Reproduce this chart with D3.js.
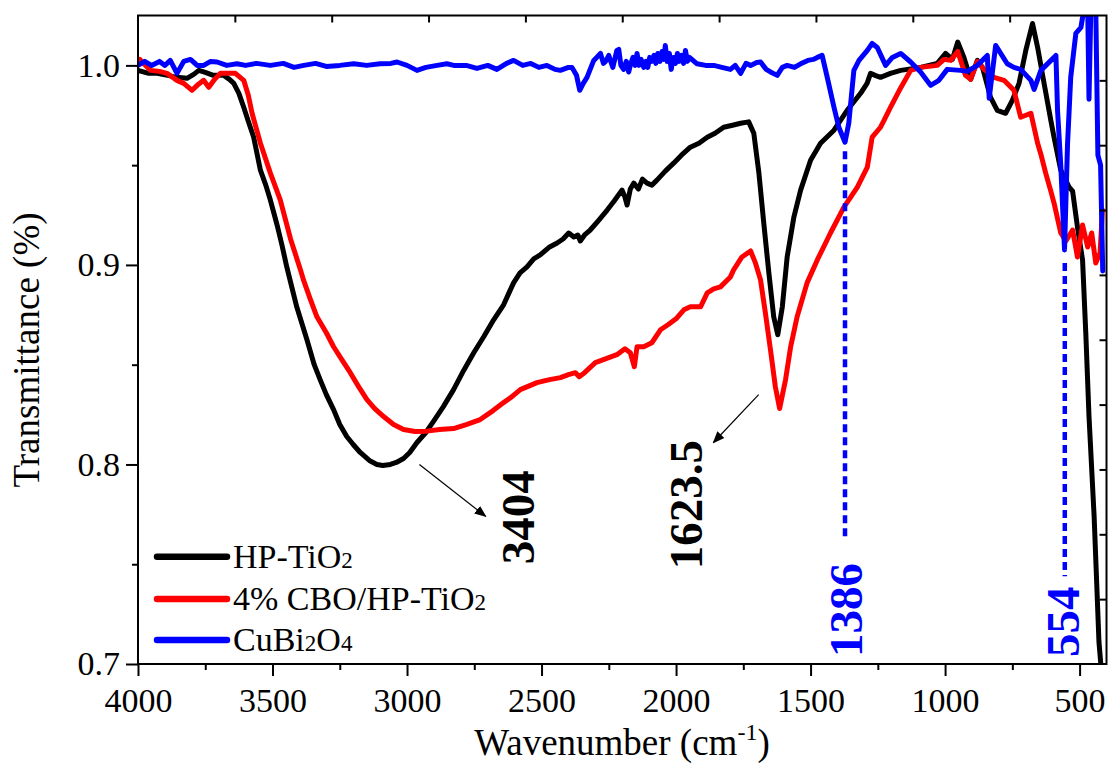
<!DOCTYPE html>
<html>
<head>
<meta charset="utf-8">
<script src="https://cdn.jsdelivr.net/npm/d3@7"></script>
<style>
body { margin: 0; background: #fff; }
svg text { font-family: "Liberation Serif", "Times New Roman", serif; }
</style>
</head>
<body>
<svg id="chart" width="1110" height="772"></svg>
<script>
// HP-TiO2
const hpWave = [4000,3960,3929,3890,3855,3818,3793,3774,3750,3720,3681,3660,3644,3625,3607,3590,3570,3545,3525,3508,3483,3465,3447,3410,3372,3345,3323,3300,3273,3250,3224,3200,3174,3140,3112,3090,3062,3040,3013,2990,2963,2930,2901,2865,2827,2790,2752,2715,2678,2641,2616,2604,2580,2554,2529,2505,2470,2442,2420,2399,2380,2365,2356,2340,2319,2290,2256,2230,2201,2190,2182,2170,2157,2140,2125,2108,2090,2071,2040,2009,1980,1947,1915,1884,1855,1823,1790,1760,1730,1711,1692,1674,1655,1637,1622,1605,1587,1562,1537,1500,1463,1413,1364,1314,1290,1277,1260,1240,1203,1165,1091,1029,998,973,953,930,905,880,861,831,806,775,750,725,700,675,656,632,607,595,570,539,526,508,489,477,465,446,428,418,410]
const hpT = [0.9975,0.996,0.996,0.995,0.994,0.9935,0.9955,0.9975,0.9965,0.995,0.995,0.993,0.991,0.986,0.979,0.972,0.964,0.9475,0.940,0.9325,0.920,0.910,0.899,0.879,0.8625,0.850,0.8425,0.835,0.8275,0.820,0.814,0.810,0.806,0.802,0.800,0.7995,0.800,0.801,0.803,0.806,0.811,0.816,0.8217,0.829,0.8375,0.847,0.856,0.864,0.8725,0.880,0.8875,0.891,0.896,0.899,0.903,0.905,0.909,0.911,0.913,0.916,0.914,0.915,0.912,0.915,0.9175,0.922,0.9275,0.932,0.9375,0.934,0.930,0.938,0.941,0.938,0.943,0.941,0.940,0.9425,0.947,0.951,0.955,0.959,0.961,0.964,0.966,0.969,0.970,0.971,0.9717,0.966,0.946,0.921,0.896,0.874,0.865,0.879,0.904,0.924,0.9375,0.9525,0.961,0.9675,0.9775,0.986,0.991,0.996,0.995,0.994,0.996,0.9975,0.999,1.001,1.006,1.003,1.0117,1.004,0.993,1.0025,0.999,0.984,0.9775,0.976,0.9825,0.991,1.0075,1.021,1.009,0.991,0.9725,0.964,0.9475,0.939,0.937,0.919,0.9025,0.866,0.824,0.774,0.711,0.695,0.69]

// 4% CBO/HP-TiO2
const cboWave = [4000,3993,3954,3920,3892,3855,3830,3799,3780,3756,3737,3715,3694,3660,3638,3607,3590,3576,3545,3508,3471,3433,3396,3385,3360,3335,3300,3273,3240,3211,3180,3149,3120,3087,3050,3013,2970,2926,2880,2827,2780,2728,2680,2641,2610,2579,2517,2470,2430,2400,2374,2360,2340,2300,2260,2220,2190,2170,2155,2145,2120,2090,2058,2030,2000,1971,1947,1909,1884,1860,1835,1798,1786,1755,1723,1705,1686,1668,1649,1631,1615,1593,1574,1550,1513,1475,1426,1376,1326,1289,1271,1240,1227,1203,1170,1128,1091,1029,1004,979,953,924,905,880,855,818,781,744,719,681,656,644,626,607,595,570,551,526,508,489,470,455,440,424,415]
const cboT = [1.002,1.003,0.9975,0.997,0.996,0.9925,0.991,0.9875,0.990,0.9925,0.989,0.993,0.996,0.996,0.996,0.9925,0.985,0.976,0.961,0.946,0.9325,0.913,0.8975,0.8925,0.883,0.874,0.866,0.859,0.852,0.846,0.839,0.8325,0.828,0.824,0.820,0.8175,0.8165,0.8167,0.8175,0.818,0.820,0.8225,0.827,0.831,0.834,0.8375,0.841,0.8425,0.8435,0.845,0.846,0.844,0.846,0.851,0.853,0.855,0.858,0.856,0.849,0.859,0.859,0.861,0.8675,0.870,0.873,0.8775,0.879,0.879,0.886,0.888,0.889,0.894,0.8975,0.904,0.907,0.901,0.8925,0.876,0.8575,0.839,0.828,0.8425,0.859,0.874,0.891,0.9025,0.916,0.929,0.939,0.949,0.964,0.969,0.9725,0.979,0.9875,0.9975,0.999,1.000,1.003,1.0025,1.007,0.995,0.993,1.002,0.998,0.994,0.9925,0.9875,0.974,0.976,0.961,0.9555,0.946,0.937,0.931,0.916,0.912,0.9175,0.904,0.920,0.909,0.916,0.901,0.906,0.9275]

// CuBi2O4
const cbWave = [4000,3975,3950,3920,3900,3880,3855,3830,3805,3780,3756,3730,3706,3670,3632,3600,3560,3508,3460,3420,3384,3340,3300,3250,3198,3150,3100,3060,3037,3000,2963,2930,2888,2852,2826,2780,2740,2700,2666,2630,2604,2570,2540,2510,2480,2450,2430,2400,2387,2370,2358,2345,2331,2306,2295,2281,2270,2262,2250,2244,2235,2228,2220,2213,2205,2195,2185,2176,2168,2160,2152,2145,2138,2130,2120,2112,2105,2098,2090,2082,2075,2068,2060,2052,2045,2040,2033,2025,2018,2010,2002,1995,1988,1980,1972,1965,1958,1950,1922,1890,1860,1830,1798,1780,1760,1740,1723,1700,1686,1665,1649,1624,1605,1587,1560,1537,1510,1490,1475,1457,1438,1413,1395,1372,1358,1339,1320,1289,1271,1252,1235,1221,1196,1165,1128,1091,1054,1023,992,942,917,880,843,836,812,769,744,719,681,669,644,610,588,582,570,556,545,533,514,495,489,480,470,465,458,452,440,432,422,414]
const cbT = [1.000,1.002,1.000,1.002,1.000,1.0025,0.996,1.002,1.003,1.000,1.000,1.002,1.0017,1.000,1.0008,1.000,1.001,1.000,1.001,0.999,1.000,1.001,0.9995,1.000,1.0008,1.000,1.0008,1.001,1.0017,1.000,0.9975,0.999,1.000,1.0008,1.000,1.000,0.9985,1.000,0.998,1.001,1.0025,1.000,1.001,0.999,1.000,0.998,0.9975,0.999,0.999,0.995,0.9875,0.991,0.994,1.0025,1.004,1.006,1.001,1.002,1.005,1.0025,0.999,1.003,1.0075,1.008,1.000,0.998,1.002,0.9967,1.001,1.004,1.000,1.006,1.000,1.003,0.999,1.002,0.999,1.004,1.002,1.005,1.001,1.006,1.002,1.007,1.003,1.010,1.002,1.006,0.998,1.004,1.001,1.006,1.002,1.005,1.001,1.0075,1.002,1.004,1.0008,1.000,1.000,0.999,0.998,1.000,0.996,1.001,1.000,1.0015,1.0017,0.998,0.9967,0.995,0.999,1.000,0.999,1.0008,1.0025,1.003,1.004,1.005,0.994,0.979,0.969,0.9615,0.971,0.9975,1.0025,1.0075,1.011,1.009,1.004,1.000,1.004,1.006,1.0017,0.9967,0.990,0.9925,0.998,0.9975,0.997,1.000,1.005,0.9835,1.010,1.0008,0.999,0.998,0.9925,0.988,0.9975,1.002,1.005,0.9775,0.950,0.9075,0.960,0.994,1.016,1.019,1.024,1.030,1.030,0.983,1.030,1.030,1.030,0.955,0.950,0.897]

const seriesNames = ['HP-TiO2', '4% CBO/HP-TiO2', 'CuBi2O4']
const seriesColors = ['#000000', '#ff0000', '#0000ff']

const xTicks = [4000, 3500, 3000, 2500, 2000, 1500, 1000, 500]
const xMinorTicks = [3750, 3250, 2750, 2250, 1750, 1250, 750]
const yTicks = [0.7, 0.8, 0.9, 1.0]
const yMinorTicks = [0.75, 0.85, 0.95]

// dashed peak markers for CuBi2O4
const peakLabels = ['1386', '554']
const peakWave = [1372, 555]
const peakTop = [0.957, 0.901]
const peakBottom = [0.7615, 0.744]
const peakTextWave = [1310, 504]

// arrowed labels
const arrowLabels = ['3404', '1623.5']
const arrowFrom = [[2954, 0.800], [1693, 0.835]]
const arrowTo = [[2708, 0.774], [1861, 0.811]]
const arrowTextAt = [[2529, 0.750], [1903, 0.7475]]

const box = {left: 138, right: 1106.5, top: 15.5, bottom: 664}

const svg = d3.select('#chart')

const x = d3.scaleLinear().domain([4000, 400]).range([box.left, box.right])
const y = d3.scaleLinear().domain([0.7, 1.025]).range([box.bottom, box.top])

svg.append('defs').append('clipPath').attr('id', 'plotClip')
    .append('rect')
    .attr('x', box.left).attr('y', box.top)
    .attr('width', box.right - box.left).attr('height', box.bottom - box.top)

svg.select('defs').append('marker')
    .attr('id', 'arrowHead')
    .attr('viewBox', '0 0 10 10')
    .attr('refX', 9).attr('refY', 5)
    .attr('markerWidth', 12).attr('markerHeight', 12)
    .attr('markerUnits', 'userSpaceOnUse')
    .attr('orient', 'auto')
    .append('path')
    .attr('d', 'M0,1 L10,5 L0,9 Z')
    .attr('fill', '#000')

// curves
const series = [
    {name: seriesNames[0], color: seriesColors[0], pts: hpWave.map((w, i) => [w, hpT[i]])},
    {name: seriesNames[1], color: seriesColors[1], pts: cboWave.map((w, i) => [w, cboT[i]])},
    {name: seriesNames[2], color: seriesColors[2], pts: cbWave.map((w, i) => [w, cbT[i]])}
]

const line = d3.line().x(d => x(d[0])).y(d => y(d[1]))

svg.append('g')
    .attr('clip-path', 'url(#plotClip)')
    .selectAll('path')
    .data(series)
    .join('path')
    .attr('d', d => line(d.pts))
    .attr('fill', 'none')
    .attr('stroke', d => d.color)
    .attr('stroke-width', 5)
    .attr('stroke-linejoin', 'round')
    .attr('stroke-linecap', 'round')

// dashed peak lines
svg.append('g').selectAll('line')
    .data(peakWave)
    .join('line')
    .attr('x1', d => x(d)).attr('x2', d => x(d))
    .attr('y1', (d, i) => y(peakTop[i]))
    .attr('y2', (d, i) => y(peakBottom[i]))
    .attr('stroke', '#0000ff')
    .attr('stroke-width', 4.5)
    .attr('stroke-dasharray', '8,5')

svg.append('g').selectAll('text')
    .data(peakLabels)
    .join('text')
    .attr('transform', (d, i) => `translate(${x(peakTextWave[i])},${y(0.7035)}) rotate(-90)`)
    .attr('fill', '#0000ff')
    .attr('font-size', 47)
    .attr('font-weight', 'bold')
    .text(d => d)

// arrows + labels
svg.append('g').selectAll('line')
    .data(arrowFrom)
    .join('line')
    .attr('x1', d => x(d[0])).attr('y1', d => y(d[1]))
    .attr('x2', (d, i) => x(arrowTo[i][0])).attr('y2', (d, i) => y(arrowTo[i][1]))
    .attr('stroke', '#000')
    .attr('stroke-width', 1.2)
    .attr('marker-end', 'url(#arrowHead)')

svg.append('g').selectAll('text')
    .data(arrowLabels)
    .join('text')
    .attr('transform', (d, i) => `translate(${x(arrowTextAt[i][0])},${y(arrowTextAt[i][1])}) rotate(-90)`)
    .attr('fill', '#000')
    .attr('font-size', 47)
    .attr('font-weight', 'bold')
    .text(d => d)

// axes
const tickFont = 34

const xAxis = svg.append('g')
    .attr('transform', `translate(0,${box.bottom})`)
    .call(d3.axisBottom(x).tickValues(xTicks).tickFormat(d3.format('d')).tickSize(12).tickPadding(12))
xAxis.call(g => g.select('.domain').remove())
xAxis.selectAll('text').attr('font-size', tickFont).attr('fill', '#000')
    .attr('font-family', '"Liberation Serif", "Times New Roman", serif')

svg.append('g')
    .attr('transform', `translate(0,${box.bottom})`)
    .call(d3.axisBottom(x).tickValues(xMinorTicks).tickFormat('').tickSize(6))
    .call(g => g.select('.domain').remove())

const yAxis = svg.append('g')
    .attr('transform', `translate(${box.left},0)`)
    .call(d3.axisLeft(y).tickValues(yTicks).tickFormat(d3.format('.1f')).tickSize(12).tickPadding(6))
yAxis.call(g => g.select('.domain').remove())
yAxis.selectAll('text').attr('font-size', tickFont).attr('fill', '#000')
    .attr('font-family', '"Liberation Serif", "Times New Roman", serif')

svg.append('g')
    .attr('transform', `translate(${box.left},0)`)
    .call(d3.axisLeft(y).tickValues(yMinorTicks).tickFormat('').tickSize(6))
    .call(g => g.select('.domain').remove())

// top / right frame ticks (ten equal steps, pointing inward)
const topScale = d3.scaleLinear().domain([0, 10]).range([box.left, box.right])
const rightScale = d3.scaleLinear().domain([0, 10]).range([box.top, box.bottom])

svg.append('g')
    .attr('transform', `translate(0,${box.top})`)
    .call(d3.axisBottom(topScale).tickValues(d3.range(1, 10)).tickFormat('').tickSize(7))
    .call(g => g.select('.domain').remove())

svg.append('g')
    .attr('transform', `translate(${box.right},0)`)
    .call(d3.axisLeft(rightScale).tickValues(d3.range(1, 10)).tickFormat('').tickSize(7))
    .call(g => g.select('.domain').remove())

svg.selectAll('.tick line').attr('stroke', '#000').attr('stroke-width', 2)

svg.append('rect')
    .attr('x', box.left).attr('y', box.top)
    .attr('width', box.right - box.left).attr('height', box.bottom - box.top)
    .attr('fill', 'none')
    .attr('stroke', '#000')
    .attr('stroke-width', 2)

// axis titles
const xTitle = svg.append('text')
    .attr('x', 622).attr('y', 755)
    .attr('text-anchor', 'middle')
    .attr('font-size', 37)
xTitle.append('tspan').text('Wavenumber (cm')
xTitle.append('tspan').attr('font-size', 24).attr('dy', -15).text('-1')
xTitle.append('tspan').attr('dy', 15).text(')')

svg.append('text')
    .attr('transform', 'translate(39,350) rotate(-90)')
    .attr('text-anchor', 'middle')
    .attr('font-size', 37)
    .text('Transmittance (%)')

// legend
const legendRows = [556.7, 599, 640]
const legendText = [
    [['HP-TiO', 0], ['2', 1]],
    [['4% CBO/HP-TiO', 0], ['2', 1]],
    [['CuBi', 0], ['2', 1], ['O', 0], ['4', 1]]
]

const legend = svg.append('g')
    .selectAll('g')
    .data(series)
    .join('g')
    .attr('transform', (d, i) => `translate(0,${legendRows[i]})`)

legend.append('line')
    .attr('x1', 157).attr('x2', 227)
    .attr('stroke', d => d.color)
    .attr('stroke-width', 6.5)
    .attr('stroke-linecap', 'round')

legend.append('text')
    .attr('x', 233).attr('y', 11)
    .attr('font-size', 34)
    .attr('fill', '#000')
    .selectAll('tspan')
    .data((d, i) => legendText[i])
    .join('tspan')
    .attr('font-size', p => p[1] ? 23 : 34)
    .text(p => p[0])
</script>
</body>
</html>
